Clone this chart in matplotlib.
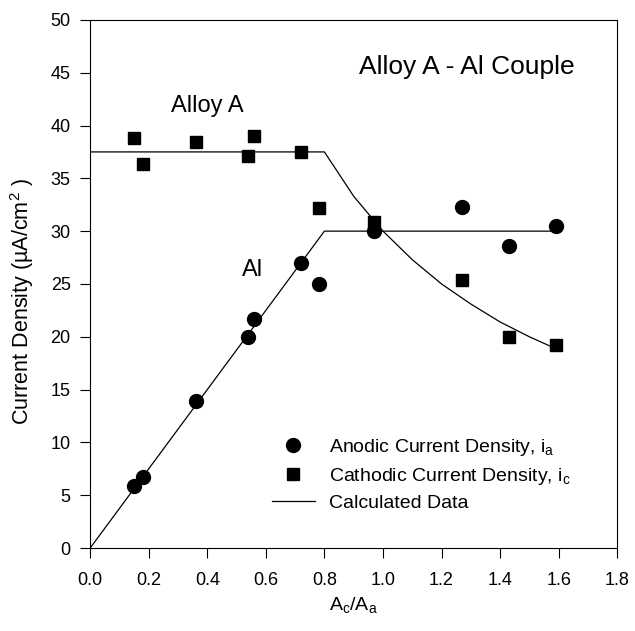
import matplotlib.pyplot as plt

plt.rcParams['font.family'] = ['Liberation Sans', 'DejaVu Sans']
plt.rcParams['mathtext.fontset'] = 'custom'
plt.rcParams['mathtext.rm'] = 'Liberation Sans'
plt.rcParams['mathtext.it'] = 'Liberation Sans'

# measured data
ratio = [0.15, 0.18, 0.36, 0.54, 0.56, 0.72, 0.78, 0.97, 1.27, 1.43, 1.59]
anodic = [5.9, 6.7, 13.9, 20.0, 21.7, 27.0, 25.0, 30.0, 32.3, 28.6, 30.5]
cathodic = [38.8, 36.4, 38.4, 37.1, 39.0, 37.5, 32.2, 30.9, 25.4, 20.0, 19.2]

# calculated curves
calc_a_x = [0.0, 0.8, 1.6]
calc_a_y = [0.0, 30.0, 30.0]
calc_c_x = [0.0, 0.8, 0.9, 1.0, 1.1, 1.2, 1.3, 1.4, 1.5, 1.6]
calc_c_y = [37.5, 37.5, 33.3, 30.0, 27.3, 25.0, 23.1, 21.4, 20.0, 18.75]

fig = plt.figure(figsize=(6.35, 6.31), dpi=100)
ax = fig.add_axes([0.142, 0.1315, 0.830, 0.837])

ax.plot(calc_a_x, calc_a_y, c='black', lw=0.9, label='Calculated Data')
ax.plot(calc_c_x, calc_c_y, c='black', lw=0.9)
ax.plot(ratio, anodic, 'o', c='black', ms=10, label='Anodic Current Density, i$_a$')
ax.plot(ratio, cathodic, 's', c='black', ms=8.5, label='Cathodic Current Density, i$_c$')

ax.text(1.285, 45.5, 'Alloy A - Al Couple', fontsize=19, ha='center', va='center')
ax.text(0.40, 41.8, 'Alloy A', fontsize=17, ha='center', va='center')
ax.text(0.556, 26.3, 'Al', fontsize=17, ha='center', va='center')

ax.set_xlim(0, 1.8)
ax.set_ylim(0, 50)
ax.set_xticks([0.0, 0.2, 0.4, 0.6, 0.8, 1.0, 1.2, 1.4, 1.6, 1.8])
ax.set_yticks(range(0, 55, 5))
ax.set_xticklabels(['%.1f' % v for v in ax.get_xticks()])
ax.tick_params(direction='out', length=7, labelsize=13)
ax.tick_params(axis='x', pad=10)
ax.tick_params(axis='y', pad=7)
ax.set_xlabel('A$_c$/A$_a$', fontsize=14)
ax.set_ylabel('Current Density (\u00b5A/cm$^2$ )', fontsize=15.5)
ax.xaxis.set_label_coords(0.5, -0.108)
ax.yaxis.set_label_coords(-0.129, 0.466)
ax.xaxis.label.set_va('center')
ax.yaxis.label.set_va('center')

lines, labels = ax.get_legend_handles_labels()
order = [1, 2, 0]
ax.legend([lines[i] for i in order], [labels[i] for i in order],
          loc='upper left', bbox_to_anchor=(0.345, 0.21), frameon=False,
          fontsize=14, handlelength=2.2, handletextpad=0.75,
          labelspacing=0.4, borderpad=0, borderaxespad=0)

fig.savefig('out.png', dpi=100)
